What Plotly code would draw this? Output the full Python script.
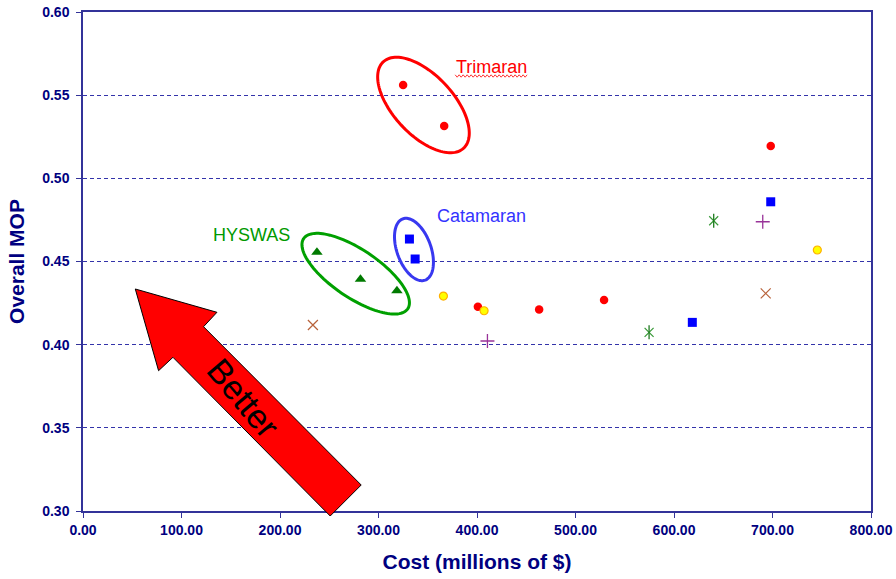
import numpy as np
import plotly.graph_objects as go

# ---------------- data ----------------
red_x = [325.0, 366.7, 400.9, 463.1, 529.0, 698.2]
red_y = [0.5561, 0.5314, 0.4228, 0.4212, 0.4268, 0.5194]

yellow_x = [365.9, 407.2, 745.5]
yellow_y = [0.4292, 0.4204, 0.4569]

blue_x = [331.4, 337.2, 618.6, 698.2]
blue_y = [0.4635, 0.4515, 0.4134, 0.4859]

green_x = [237.5, 281.7, 318.7]
green_y = [0.4555, 0.4393, 0.4324]

aster_x = [574.7, 640.3]
aster_y = [0.4074, 0.4745]

plus_x = [410.6, 690.1]
plus_y = [0.4022, 0.4739]

xmark_x = [233.4, 693.1]
xmark_y = [0.4118, 0.4308]

x_ticks = [0, 100, 200, 300, 400, 500, 600, 700, 800]
y_ticks = [0.30, 0.35, 0.40, 0.45, 0.50, 0.55, 0.60]

# ---------------- geometry helpers (pixel -> paper) ----------------
W, H = 896, 579
X0, X1 = 82.7, 871.0
Y0, Y1 = 511.0, 12.0


def px(x):
    return (x - X0) / (X1 - X0)


def py(y):
    return (Y0 - y) / (Y0 - Y1)


def poly_path(points, close=True):
    s = "M " + " L ".join(f"{px(a):.5f},{py(b):.5f}" for a, b in points)
    return s + (" Z" if close else "")


def ellipse_path(cx, cy, a, b, theta_deg, n=120):
    th = np.radians(theta_deg)
    t = np.linspace(0, 2 * np.pi, n)
    xs = cx + a * np.cos(t) * np.cos(th) - b * np.sin(t) * np.sin(th)
    ys = cy + a * np.cos(t) * np.sin(th) + b * np.sin(t) * np.cos(th)
    return poly_path(list(zip(xs, ys)))


NAVY = "#000080"
AXIS = "#333399"
FONT = "Liberation Sans, Arial"

fig = go.Figure()

fig.add_trace(go.Scatter(x=red_x, y=red_y, mode="markers",
                         marker=dict(symbol="circle", size=8.5, color="#FF0000",
                                     line=dict(width=0)), name="red"))
fig.add_trace(go.Scatter(x=yellow_x, y=yellow_y, mode="markers",
                         marker=dict(symbol="circle", size=8, color="#FFFF00",
                                     line=dict(width=1.2, color="#FFB000")), name="yellow"))
fig.add_trace(go.Scatter(x=blue_x, y=blue_y, mode="markers",
                         marker=dict(symbol="square", size=9, color="#0000FF",
                                     line=dict(width=0)), name="blue"))
fig.add_trace(go.Scatter(x=green_x, y=green_y, mode="markers",
                         marker=dict(symbol="triangle-up", size=10, color="#007A00",
                                     line=dict(width=0)), name="green"))
# Excel-style asterisk: an X with a vertical bar
fig.add_trace(go.Scatter(x=aster_x, y=aster_y, mode="markers",
                         marker=dict(symbol="x-thin-open", size=9, color="#3A9A3A",
                                     line=dict(width=1.2, color="#3A9A3A")), name="aster"))
fig.add_trace(go.Scatter(x=aster_x, y=aster_y, mode="markers",
                         marker=dict(symbol="line-ns-open", size=10, color="#1E7A1E",
                                     line=dict(width=1.3, color="#1E7A1E")), name="aster2"))
fig.add_trace(go.Scatter(x=plus_x, y=plus_y, mode="markers",
                         marker=dict(symbol="cross-thin-open", size=10, color="#993399",
                                     line=dict(width=1.3, color="#993399")), name="plus"))
fig.add_trace(go.Scatter(x=xmark_x, y=xmark_y, mode="markers",
                         marker=dict(symbol="x-thin-open", size=10, color="#B8623A",
                                     line=dict(width=1.2, color="#B8623A")), name="x"))

shapes = []
# group ellipses
shapes.append(dict(type="path", xref="paper", yref="paper",
                   path=ellipse_path(423.3, 105.0, 59, 30, 47),
                   line=dict(color="#FF0000", width=3)))
shapes.append(dict(type="path", xref="paper", yref="paper",
                   path=ellipse_path(355.5, 273.7, 62.8, 24, 34),
                   line=dict(color="#00A000", width=3)))
shapes.append(dict(type="path", xref="paper", yref="paper",
                   path=ellipse_path(413.8, 249.5, 32.6, 17, 70),
                   line=dict(color="#3838F0", width=3)))

# "Better" arrow
arrow_pts = [(135, 289), (216.7, 312.3), (203.3, 326.7), (361, 485),
             (330, 516), (172.7, 357.3), (158.3, 370.7)]
shapes.append(dict(type="path", xref="paper", yref="paper",
                   path=poly_path(arrow_pts), fillcolor="#FF0000",
                   line=dict(color="#000000", width=1), layer="above"))

# spell-check squiggle under "Trimaran"
zz = [(455 + 2 * i, 76 + (1.2 if i % 2 else -1.2)) for i in range(37)]
shapes.append(dict(type="path", xref="paper", yref="paper",
                   path=poly_path(zz, close=False),
                   line=dict(color="#FF0000", width=0.8)))


def label(text, x, y, size, color, angle=0):
    return dict(text=text, x=px(x), y=py(y), xref="paper", yref="paper",
                xanchor="center", yanchor="middle", showarrow=False,
                textangle=angle, font=dict(family=FONT, size=size, color=color))


annotations = [
    label("Trimaran", 491, 67, 18, "#FF0000"),
    label("Catamaran", 481, 216, 18, "#3333FF"),
    label("HYSWAS", 251, 235, 18, "#009900"),
    label("Better", 243, 398, 34, "#000000", angle=50),
]

fig.update_layout(
    width=W, height=H,
    margin=dict(l=X0, r=W - X1, t=Y1, b=H - Y0, pad=0, autoexpand=False),
    plot_bgcolor="#FFFFFF", paper_bgcolor="#FFFFFF",
    showlegend=False,
    shapes=shapes,
    annotations=annotations,
    font=dict(family=FONT, color=NAVY),
)

fig.update_xaxes(
    range=[0, 800], tickvals=x_ticks, tickformat=".2f", automargin=False,
    showline=True, linecolor=AXIS, linewidth=1.5, mirror=True,
    ticks="outside", ticklen=5, tickcolor=AXIS, showgrid=False, zeroline=False,
    tickfont=dict(family=FONT, size=14, color=NAVY, weight="bold"),
    title=dict(text="<b>Cost (millions of $)</b>", standoff=18,
               font=dict(family=FONT, size=21, color=NAVY)),
)
fig.update_yaxes(
    range=[0.30, 0.60], tickvals=y_ticks, tickformat=".2f", automargin=False,
    showline=True, linecolor=AXIS, linewidth=1.5, mirror=True,
    ticks="outside", ticklen=5, tickcolor=AXIS, ticklabelstandoff=4,
    showgrid=True, gridcolor="#3333AA", griddash="4px,3px", gridwidth=1, zeroline=False,
    tickfont=dict(family=FONT, size=14, color=NAVY, weight="bold"),
    title=dict(text="<b>Overall MOP</b>", standoff=12,
               font=dict(family=FONT, size=21, color=NAVY)),
)

fig.write_html("out.html", config={"displayModeBar": False},
               post_script="document.body.style.margin='0';")
